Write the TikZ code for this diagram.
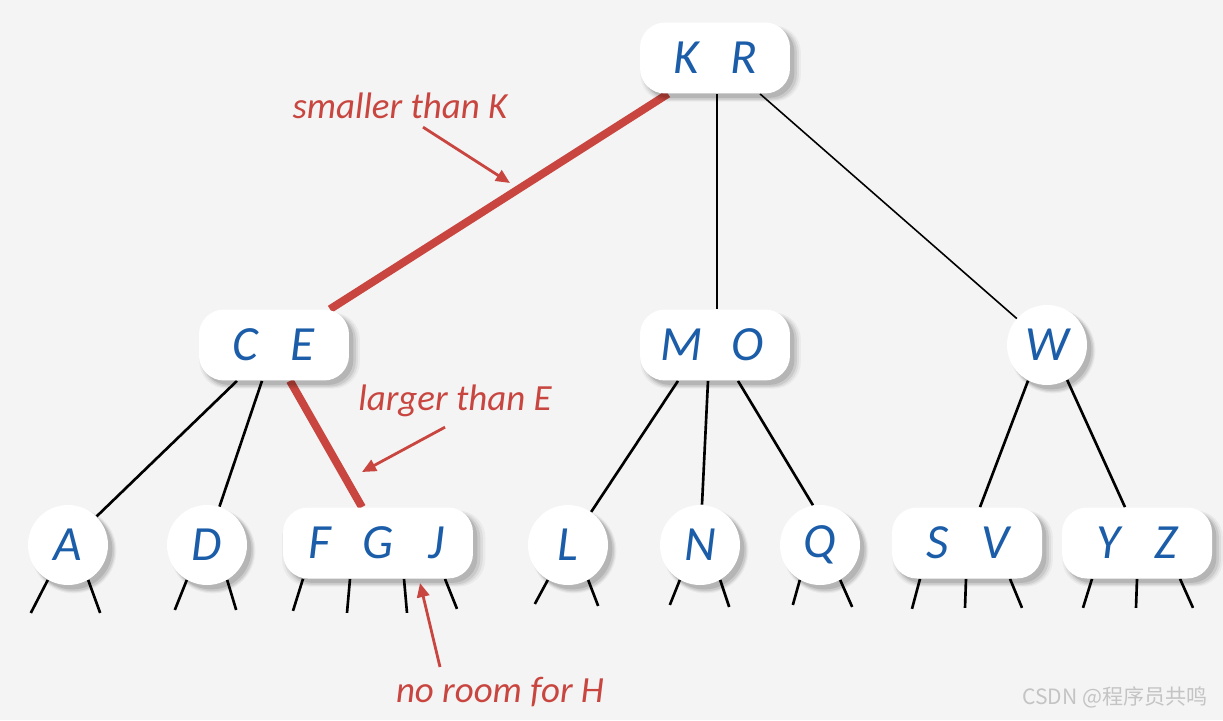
\documentclass[tikz,border=0pt]{standalone}
\usepackage{fontspec}
\setmainfont{Carlito}
\newfontfamily\cjk{Noto Sans CJK SC}
\usetikzlibrary{arrows.meta,calc,shadows}
\definecolor{bgc}{HTML}{F4F4F4}
\definecolor{keyblue}{HTML}{1B5DA8}
\definecolor{lred}{HTML}{C8463F}
\definecolor{wmgray}{HTML}{C4C4C4}
\pgfdeclarelayer{back}
\pgfdeclarelayer{bg}
\pgfsetlayers{back,bg,main}
\tikzset{
 softshadow/.style={
   drop shadow={shadow xshift=3pt, shadow yshift=-3pt, shadow scale=1.07, fill=black, opacity=0.04},
   drop shadow={shadow xshift=3pt, shadow yshift=-3pt, shadow scale=1.045, fill=black, opacity=0.06},
   drop shadow={shadow xshift=3pt, shadow yshift=-3pt, shadow scale=1.02, fill=black, opacity=0.08},
   drop shadow={shadow xshift=2.5pt, shadow yshift=-2.5pt, shadow scale=1.0, fill=black, opacity=0.10}},
 keynode/.style={draw=none, fill=white, rounded corners=0.5cm, minimum height=1.42cm, inner sep=0pt,
   softshadow, font=\fontsize{28}{30}\selectfont\itshape, text=keyblue},
 twokey/.style={keynode, minimum width=3cm},
 threekey/.style={keynode, minimum width=3.8cm},
 onekey/.style={keynode, circle, minimum size=1.6cm},
 edge/.style={line width=1.5pt, black},
 thinedge/.style={line width=0.9pt, black},
 hot/.style={line width=4.5pt, lred},
 stub/.style={line width=1.5pt, black},
 note/.style={text=lred, font=\fontsize{21}{23}\selectfont\itshape},
 pointer/.style={lred, line width=1.6pt, -{Triangle[length=8pt,width=7pt]}},
}
\newcommand{\kb}[1]{\makebox[1.16cm]{#1}}
\begin{document}
\begin{tikzpicture}[x=0.02cm, y=-0.02cm]
\begin{pgfonlayer}{back}
\fill[bgc] (0,0) rectangle (1223,720);
\end{pgfonlayer}
\useasboundingbox (0,0) rectangle (1223,720);
% nodes
\node[twokey] (KR) at (715,58) {\kb{K}\kb{R}};
\node[twokey] (CE) at (274,345) {\kb{C}\kb{E}};
\node[twokey] (MO) at (715,345) {\makebox[1.32cm]{M}\makebox[1.32cm]{O}};
\node[onekey] (W) at (1047,345) {W};
\node[onekey] (A) at (68,545) {A};
\node[onekey] (D) at (207,545) {D};
\node[threekey] (FGJ) at (378,543) {\kb{F}\kb{G}\kb{J}};
\node[onekey] (L) at (568,545) {L};
\node[onekey] (N) at (700,545) {N};
\node[onekey] (Q) at (820,545) {Q};
\node[twokey] (SV) at (967,543) {\kb{S}\kb{V}};
\node[twokey] (YZ) at (1137,543) {\kb{Y}\kb{Z}};
% labels
\node[note] (l1) at (400,106) {smaller than K};
\node[note] (l2) at (455,401) {larger than E};
\node[note] (l3) at (500,692) {no room for H};
\node[text=wmgray, font=\cjk\fontsize{12}{14}\selectfont] (wm) at (1115,697) {CSDN @程序员共鸣};
\coordinate (t1) at (510,183);
\coordinate (t2) at (362,472);
\coordinate (t3) at (420,583);
\begin{pgfonlayer}{bg}
\draw[hot] ($(KR.south)+(-47,0)$) -- ($(CE.north)+(56,0)$);
\draw[thinedge] ($(KR.south)+(2,0)$) -- ($(MO.north)+(2,0)$);
\draw[thinedge] ($(KR.south)+(45,0)$) -- (W.center);
\draw[edge] ($(CE.south)+(-37,0)$) -- (A.45);
\draw[edge] ($(CE.south)+(-12,0)$) -- (D.72);
\draw[hot] ($(CE.south)+(16,0)$) -- ($(FGJ.north)+(-16,0)$);
\draw[edge] ($(MO.south)+(-37,0)$) -- (L.55);
\draw[edge] ($(MO.south)+(-7,0)$) -- ($(N.north)+(2,0)$);
\draw[edge] ($(MO.south)+(23,0)$) -- (Q.100);
\draw[edge] (W.242) -- ($(SV.north)+(13,0)$);
\draw[edge] (W.300) -- ($(YZ.north)+(-12,0)$);
% stubs
\draw[stub] (A.240) -- ++(-17,33);
\draw[stub] (A.300) -- ++(12,33);
\draw[stub] (D.240) -- ++(-12,30);
\draw[stub] (D.300) -- ++(9,30);
\draw[stub] ($(FGJ.south)+(-75,0)$) -- ++(-10,32);
\draw[stub] ($(FGJ.south)+(-28,0)$) -- ++(-3,34);
\draw[stub] ($(FGJ.south)+(26,0)$) -- ++(3,34);
\draw[stub] ($(FGJ.south)+(67,0)$) -- ++(12,30);
\draw[stub] (L.240) -- ++(-13,24);
\draw[stub] (L.300) -- ++(10,26);
\draw[stub] (N.240) -- ++(-10,25);
\draw[stub] (N.300) -- ++(9,27);
\draw[stub] (Q.240) -- ++(-7,25);
\draw[stub] (Q.300) -- ++(12,27);
\draw[stub] ($(SV.south)+(-47,0)$) -- ++(-8,30);
\draw[stub] ($(SV.south)+(-1,0)$) -- ++(-1,29);
\draw[stub] ($(SV.south)+(43,0)$) -- ++(12,29);
\draw[stub] ($(YZ.south)+(-45,0)$) -- ++(-9,29);
\draw[stub] ($(YZ.south)+(0,0)$) -- ++(-1,29);
\draw[stub] ($(YZ.south)+(43,0)$) -- ++(13,29);
\end{pgfonlayer}
% pointers
\draw[pointer] ($(l1.south)+(23,2)$) -- (t1);
\draw[pointer] ($(l2.south)+(-10,4)$) -- (t2);
\draw[pointer] ($(l3.north)+(-60,-4)$) -- (t3);
\end{tikzpicture}
\end{document}
